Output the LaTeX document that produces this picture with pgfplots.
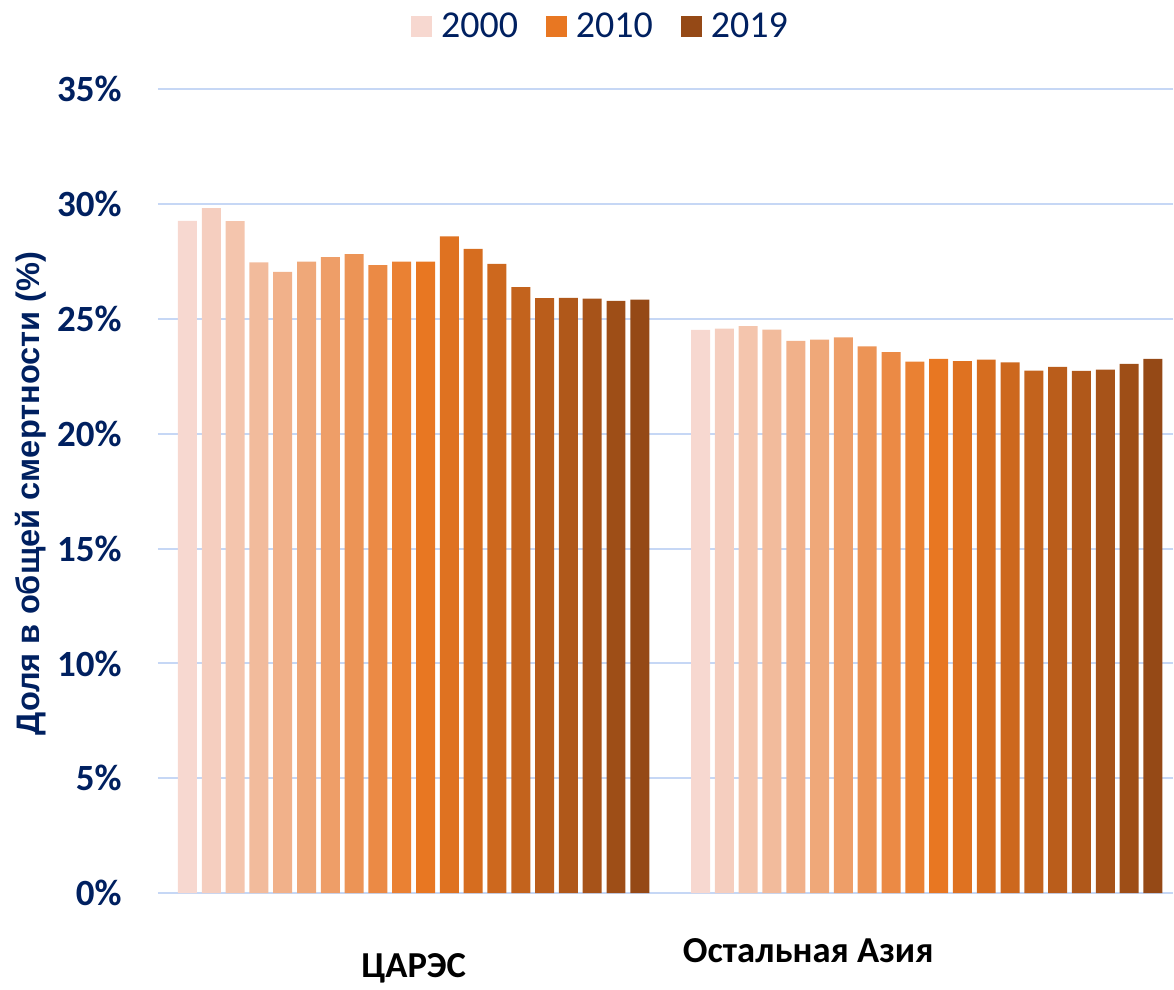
\documentclass[border=0pt]{standalone}
\usepackage{pgfplots}
\pgfplotsset{compat=1.18}
\usepackage{fontspec}
\setmainfont{Carlito}
\newfontfamily\arialfont{Liberation Sans}

\definecolor{cL}{HTML}{F7D8D0}
\definecolor{cO}{HTML}{E87722}
\definecolor{cB}{HTML}{954916}
\definecolor{navy}{HTML}{002060}
\definecolor{gridc}{HTML}{C6D7F5}

\colorlet{y00}{cL}
\colorlet{y01}{cO!10!cL}
\colorlet{y02}{cO!20!cL}
\colorlet{y03}{cO!30!cL}
\colorlet{y04}{cO!40!cL}
\colorlet{y05}{cO!50!cL}
\colorlet{y06}{cO!60!cL}
\colorlet{y07}{cO!70!cL}
\colorlet{y08}{cO!80!cL}
\colorlet{y09}{cO!90!cL}
\colorlet{y10}{cO}
\colorlet{y11}{cB!11!cO}
\colorlet{y12}{cB!22!cO}
\colorlet{y13}{cB!33!cO}
\colorlet{y14}{cB!44!cO}
\colorlet{y15}{cB!56!cO}
\colorlet{y16}{cB!67!cO}
\colorlet{y17}{cB!78!cO}
\colorlet{y18}{cB!89!cO}
\colorlet{y19}{cB}

\begin{document}
\begin{tikzpicture}
\begin{axis}[
  name=ax,
  scale only axis,
  width=508pt, height=402.5pt,
  ybar, bar width=0.037,
  xmin=-0.4985, xmax=1.48,
  ymin=0, ymax=35,
  ytick={0,5,...,35},
  yticklabel={\pgfmathprintnumber{\tick}\%},
  /pgf/number format/assume math mode=true,
  yticklabel style={font=\fontsize{18.5}{21}\selectfont\bfseries, text=navy, anchor=east, inner sep=0pt, xshift=-18pt},
  xtick={0,0.769},
  xticklabels={\raisebox{-7.5pt}{ЦАРЭС}, Остальная Азия},
  xticklabel style={font=\fontsize{18.3}{21}\selectfont\bfseries, text=black, anchor=base, yshift=-34.5pt},
  major tick length=0pt,
  axis line style={draw=none},
  ymajorgrids, grid style={gridc, line width=1pt},
  ylabel={\arialfont\bfseries Доля в общей смертности (\%)},
  ylabel style={at={(axis description cs:-0.125,0.497)}, anchor=center, font=\fontsize{16.3}{19}\selectfont, text=navy},
  legend style={at={(0.437,1.078)}, anchor=center, draw=none, legend columns=-1,
    font=\fontsize{19}{22}\selectfont, text=navy,
    /tikz/every odd column/.append style={column sep=2.5pt},
    /tikz/every even column/.append style={column sep=12pt}},
  legend image code/.code={\fill[#1] (0pt,-5.25pt) rectangle (10.5pt,5.25pt);},
  clip=false,
]
\addplot[fill=y00, draw=none, bar shift=-0.4408] coordinates {(0,29.26) (1,24.52)};
\addlegendentry{2000}
\addplot[fill=y01, draw=none, bar shift=-0.3944, forget plot] coordinates {(0,29.81) (1,24.57)};
\addplot[fill=y02, draw=none, bar shift=-0.3480, forget plot] coordinates {(0,29.25) (1,24.68)};
\addplot[fill=y03, draw=none, bar shift=-0.3016, forget plot] coordinates {(0,27.45) (1,24.53)};
\addplot[fill=y04, draw=none, bar shift=-0.2552, forget plot] coordinates {(0,27.04) (1,24.04)};
\addplot[fill=y05, draw=none, bar shift=-0.2088, forget plot] coordinates {(0,27.48) (1,24.09)};
\addplot[fill=y06, draw=none, bar shift=-0.1624, forget plot] coordinates {(0,27.68) (1,24.19)};
\addplot[fill=y07, draw=none, bar shift=-0.1160, forget plot] coordinates {(0,27.81) (1,23.80)};
\addplot[fill=y08, draw=none, bar shift=-0.0696, forget plot] coordinates {(0,27.33) (1,23.55)};
\addplot[fill=y09, draw=none, bar shift=-0.0232, forget plot] coordinates {(0,27.49) (1,23.13)};
\addplot[fill=y10, draw=none, bar shift=0.0232] coordinates {(0,27.49) (1,23.25)};
\addlegendentry{2010}
\addplot[fill=y11, draw=none, bar shift=0.0696, forget plot] coordinates {(0,28.58) (1,23.16)};
\addplot[fill=y12, draw=none, bar shift=0.1160, forget plot] coordinates {(0,28.04) (1,23.22)};
\addplot[fill=y13, draw=none, bar shift=0.1624, forget plot] coordinates {(0,27.39) (1,23.10)};
\addplot[fill=y14, draw=none, bar shift=0.2088, forget plot] coordinates {(0,26.38) (1,22.74)};
\addplot[fill=y15, draw=none, bar shift=0.2552, forget plot] coordinates {(0,25.90) (1,22.90)};
\addplot[fill=y16, draw=none, bar shift=0.3016, forget plot] coordinates {(0,25.91) (1,22.73)};
\addplot[fill=y17, draw=none, bar shift=0.3480, forget plot] coordinates {(0,25.87) (1,22.78)};
\addplot[fill=y18, draw=none, bar shift=0.3944, forget plot] coordinates {(0,25.78) (1,23.04)};
\addplot[fill=y19, draw=none, bar shift=0.4408] coordinates {(0,25.83) (1,23.25)};
\addlegendentry{2019}
\end{axis}
\path (ax.south west) ++(-79pt,-44pt) coordinate (bbl);
\path (ax.north west) ++(-79pt,44.5pt) coordinate (btl);
\end{tikzpicture}
\end{document}
